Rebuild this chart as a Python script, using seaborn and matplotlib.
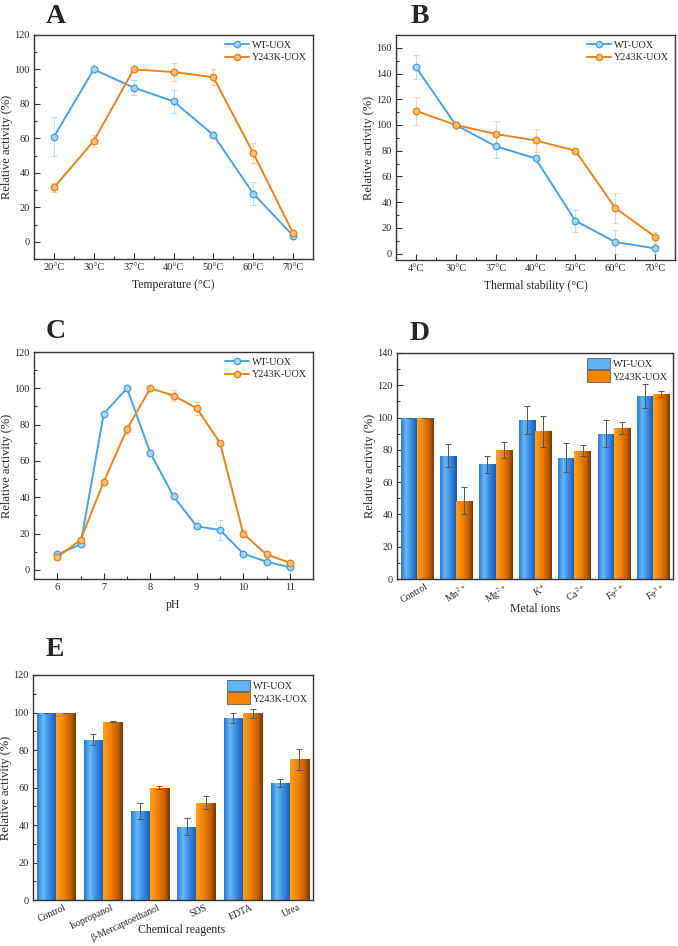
"""
Relative activity of WT-UOX and Y243K-UOX, five panels
"""
import numpy as np
import pandas as pd
import matplotlib
matplotlib.use('Agg')
import matplotlib.pyplot as plt
import matplotlib.ticker as mtick
import matplotlib.transforms as mtransforms
from matplotlib.colors import LinearSegmentedColormap
from matplotlib.patches import Patch
from matplotlib.lines import Line2D
import seaborn as sns

## Data
series = ['WT-UOX', 'Y243K-UOX']

temp_labels = ['20°C', '30°C', '37°C', '40°C', '50°C', '60°C', '70°C']
temp_wt = [61, 100, 89.5, 81.5, 62, 28, 3.5]
temp_wt_err = [11.5, 0, 4.5, 6.5, 1, 6.5, 0.5]
temp_mut = [31.5, 58.5, 100, 98.5, 95.5, 51.5, 5]
temp_mut_err = [2.5, 3.5, 1, 5, 4.5, 6, 0.5]

stab_labels = ['4°C', '30°C', '37°C', '40°C', '50°C', '60°C', '70°C']
stab_wt = [145, 100, 83.5, 74, 25.5, 9, 4]
stab_wt_err = [9.5, 0, 9, 1, 8.5, 9.5, 4]
stab_mut = [111, 100, 93, 88, 80, 35.5, 13]
stab_mut_err = [11, 0, 10, 9, 0.5, 11.5, 3.5]

ph_values = [6, 6.5, 7, 7.5, 8, 8.5, 9, 9.5, 10, 10.5, 11]
ph_wt = [8.5, 14, 86, 100, 64.5, 40.5, 24, 22, 9, 4.5, 1.5]
ph_wt_err = [1, 1, 1, 0.5, 1.5, 1, 1.5, 5.5, 1, 1, 0.5]
ph_mut = [7, 16.5, 48.5, 77.5, 100, 96, 89, 70, 20, 8.5, 4]
ph_mut_err = [1, 1, 1, 2.5, 0.5, 3, 3.5, 1, 2, 1, 0.5]

metal_labels = ['Control', 'Mn$^{2+}$', 'Mg$^{2+}$', 'K$^{+}$', 'Ca$^{2+}$', 'Fe$^{2+}$', 'Fe$^{3+}$']
metal_wt = [100, 76.5, 71, 98.5, 75, 90, 113.5]
metal_wt_err = [0, 7, 5.5, 8.5, 9, 8.5, 7.5]
metal_mut = [100, 48.5, 80, 91.5, 79.5, 93.5, 114.5]
metal_mut_err = [0, 8.5, 5, 9.5, 3.5, 3.5, 2]

chem_labels = ['Control', 'Isopropanol', 'β-Mercaptoethanol', 'SDS', 'EDTA', 'Urea']
chem_wt = [100, 85.5, 47.5, 39, 97, 62.5]
chem_wt_err = [0, 3, 4.5, 4.5, 2.5, 2]
chem_mut = [100, 95, 60, 52, 99.5, 75]
chem_mut_err = [0, 0.3, 1, 3.5, 2.5, 5.5]

## Style
sns.set_style('ticks')
plt.rcParams['font.family'] = ['Liberation Serif', 'DejaVu Serif']
plt.rcParams['mathtext.fontset'] = 'stix'

line_colors = {'WT-UOX': '#4aa2e2', 'Y243K-UOX': '#e8841c'}
marker_faces = {'WT-UOX': '#a8d6f7', 'Y243K-UOX': '#f7c078'}
bar_cmaps = {
    'WT-UOX': LinearSegmentedColormap.from_list(
        'blue', [(0, '#2a78d6'), (0.3, '#68baf6'), (0.6, '#3a8de6'), (1, '#1a58b0')]),
    'Y243K-UOX': LinearSegmentedColormap.from_list(
        'orange', [(0, '#ffa020'), (0.4, '#f08200'), (0.75, '#c45e00'), (1, '#763800')]),
}

W, H = 678, 946
fig = plt.figure(figsize=(W / 100, H / 100), dpi=100)


def add_ax(l, t, r, b):
    return fig.add_axes([l / W, 1 - b / H, (r - l) / W, (b - t) / H])


def style_axes(ax, ylim, ymajor, xlabel):
    ax.set_ylim(*ylim)
    ax.yaxis.set_major_locator(mtick.MultipleLocator(ymajor))
    ax.yaxis.set_minor_locator(mtick.MultipleLocator(ymajor / 2))
    ax.tick_params(which='both', direction='in', top=False, right=False,
                   labelsize=7.5, color='#333333', pad=3)
    ax.tick_params(which='major', length=4, width=0.8)
    ax.tick_params(which='minor', length=2, width=0.8)
    for s in ax.spines.values():
        s.set_visible(True)
        s.set_linewidth(1.0)
        s.set_color('#333333')
    ax.set_xlabel(xlabel, fontsize=8.5, labelpad=5)
    ax.set_ylabel('Relative activity (%)', fontsize=9, labelpad=1)


def line_panel(ax, x, wt, wt_err, mut, mut_err):
    df = pd.DataFrame({
        'x': list(x) * 2,
        'y': list(wt) + list(mut),
        'err': list(wt_err) + list(mut_err),
        'series': [series[0]] * len(x) + [series[1]] * len(x),
    })
    for name, g in df.groupby('series', sort=False):
        ax.errorbar(g['x'], g['y'], yerr=g['err'], fmt='none',
                    ecolor=line_colors[name], alpha=0.35, elinewidth=0.8,
                    capsize=2, capthick=0.8, zorder=1)
    sns.lineplot(data=df, x='x', y='y', hue='series', palette=line_colors,
                 sort=False, linewidth=1.4, legend=False, ax=ax, zorder=2)
    for name, g in df.groupby('series', sort=False):
        ax.scatter(g['x'], g['y'], s=22, facecolor=marker_faces[name],
                   edgecolor=line_colors[name], linewidth=1.0, zorder=3)
    handles = [Line2D([], [], color=line_colors[n], lw=1.4, marker='o', markersize=4.5,
                      markerfacecolor=marker_faces[n], markeredgecolor=line_colors[n])
               for n in series]
    ax.legend(handles=handles, labels=series, loc='upper right', frameon=False,
              fontsize=7.3, handlelength=2.4, borderaxespad=0.15,
              labelspacing=0.35, handletextpad=0.3)


def bar_panel(ax, labels, wt, wt_err, mut, mut_err, rotation):
    df = pd.DataFrame({
        'cat': list(labels) * 2,
        'y': list(wt) + list(mut),
        'series': [series[0]] * len(labels) + [series[1]] * len(labels),
    })
    errs = {series[0]: wt_err, series[1]: mut_err}
    sns.barplot(data=df, x='cat', y='y', hue='series', hue_order=series,
                palette={n: bar_cmaps[n](0.4) for n in series}, width=0.82,
                errorbar=None, legend=False, ax=ax, zorder=1)
    xlim = (-0.5, len(labels) - 0.5)
    for name, cont in zip(series, ax.containers):
        grad = np.linspace(0, 1, 64).reshape(1, -1)
        xs = []
        for p in cont.patches:
            x0, w, h = p.get_x(), p.get_width(), p.get_height()
            p.set_edgecolor('none')
            im = ax.imshow(grad, cmap=bar_cmaps[name], aspect='auto',
                           extent=(x0, x0 + w, 0, h), zorder=1.5)
            im.set_clip_path(p)
            xs.append(x0 + w / 2)
        ax.errorbar(xs, df.loc[df.series == name, 'y'], yerr=errs[name], fmt='none',
                    ecolor='#555555', elinewidth=0.7, capsize=2.2, capthick=0.7, zorder=3)
    ax.set_xlim(*xlim)
    handles = [Patch(facecolor=bar_cmaps[n](0.35), edgecolor='#444444', linewidth=0.5)
               for n in series]
    ax.legend(handles=handles, labels=series, loc='upper right', frameon=False,
              fontsize=7.3, handlelength=2.2, handleheight=1.35, borderaxespad=0.1,
              labelspacing=0.1, handletextpad=0.3)
    # rotated category labels, nudged right like the original
    ax.tick_params(axis='x', which='both', length=0, pad=2, labelsize=7)
    offset = mtransforms.ScaledTranslation(8 / 100, 0, fig.dpi_scale_trans)
    for lab in ax.get_xticklabels():
        lab.set_rotation(rotation)
        lab.set_ha('right')
        lab.set_rotation_mode('anchor')
        lab.set_transform(lab.get_transform() + offset)


# A: temperature
axA = add_ax(34, 35, 313, 259)
line_panel(axA, temp_labels, temp_wt, temp_wt_err, temp_mut, temp_mut_err)
axA.set_xlim(-0.5, 6.5)
axA.xaxis.set_minor_locator(mtick.FixedLocator(np.arange(-0.5, 7, 1)))
style_axes(axA, (-10, 120), 20, 'Temperature (°C)')

# B: thermal stability
axB = add_ax(396, 35, 675, 260)
line_panel(axB, stab_labels, stab_wt, stab_wt_err, stab_mut, stab_mut_err)
axB.set_xlim(-0.5, 6.5)
axB.xaxis.set_minor_locator(mtick.FixedLocator(np.arange(-0.5, 7, 1)))
style_axes(axB, (-5, 170), 20, 'Thermal stability (°C)')

# C: pH
axC = add_ax(34, 352, 313, 579)
line_panel(axC, ph_values, ph_wt, ph_wt_err, ph_mut, ph_mut_err)
axC.set_xlim(5.5, 11.5)
axC.xaxis.set_major_locator(mtick.MultipleLocator(1))
axC.xaxis.set_minor_locator(mtick.MultipleLocator(0.5))
style_axes(axC, (-5, 120), 20, 'pH')

# D: metal ions
axD = add_ax(397, 353, 673, 579)
style_axes(axD, (0, 140), 20, 'Metal ions')
bar_panel(axD, metal_labels, metal_wt, metal_wt_err, metal_mut, metal_mut_err, 30)
axD.set_ylim(0, 140)
axD.xaxis.set_label_coords(0.5, -0.105)

# E: chemical reagents
axE = add_ax(33, 675, 313, 900)
style_axes(axE, (0, 120), 20, 'Chemical reagents')
bar_panel(axE, chem_labels, chem_wt, chem_wt_err, chem_mut, chem_mut_err, 25)
axE.set_ylim(0, 120)
axE.xaxis.set_label_coords(0.53, -0.105)

# panel letters
for letter, (px, py) in {'A': (46, 23), 'B': (411, 23), 'C': (46, 338),
                         'D': (410, 340), 'E': (46, 656)}.items():
    fig.text(px / W, 1 - py / H, letter, fontsize=20, fontweight='bold',
             ha='left', va='baseline')

fig.savefig('out.png', dpi=100)
